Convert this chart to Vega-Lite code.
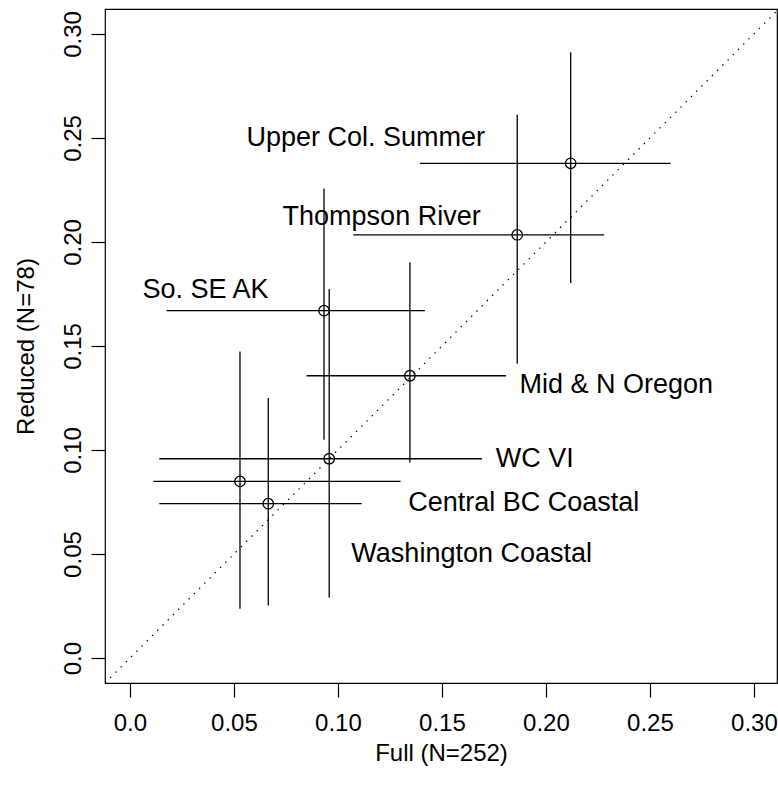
{
  "$schema": "https://vega.github.io/schema/vega-lite/v6.json",
  "width": 672,
  "height": 674,
  "autosize": {"type": "none"},
  "padding": {"left": 105, "top": 9, "right": 1, "bottom": 104},
  "background": "white",
  "config": {
    "font": "Liberation Sans",
    "view": {"stroke": "black", "strokeWidth": 1.2},
    "axis": {
      "domain": false,
      "grid": false,
      "ticks": true,
      "tickSize": 14,
      "tickColor": "black",
      "tickWidth": 1.2,
      "labelFont": "Liberation Sans",
      "labelFontSize": 24,
      "labelColor": "black",
      "titleFont": "Liberation Sans",
      "titleFontSize": 24,
      "titleFontWeight": "normal",
      "titleColor": "black",
      "labelOverlap": false,
      "labelFlush": false
    }
  },
  "datasets": {
    "pts": [
      {"name": "Upper Col. Summer", "full": 0.2119, "reduced": 0.2378, "full_lo": 0.1394, "full_hi": 0.2600, "red_lo": 0.1803, "red_hi": 0.2912, "lx": 0.1134, "ly": 0.2501},
      {"name": "Thompson River", "full": 0.1862, "reduced": 0.2034, "full_lo": 0.1074, "full_hi": 0.2280, "red_lo": 0.1415, "red_hi": 0.2612, "lx": 0.1210, "ly": 0.2122},
      {"name": "So. SE AK", "full": 0.0933, "reduced": 0.1670, "full_lo": 0.0176, "full_hi": 0.1418, "red_lo": 0.1049, "red_hi": 0.2257, "lx": 0.0363, "ly": 0.1768},
      {"name": "Mid & N Oregon", "full": 0.1346, "reduced": 0.1357, "full_lo": 0.0849, "full_hi": 0.1808, "red_lo": 0.0940, "red_hi": 0.1902, "lx": 0.2338, "ly": 0.1314},
      {"name": "WC VI", "full": 0.0958, "reduced": 0.0958, "full_lo": 0.0141, "full_hi": 0.1692, "red_lo": 0.0291, "red_hi": 0.1774, "lx": 0.1946, "ly": 0.0955},
      {"name": "Central BC Coastal", "full": 0.0529, "reduced": 0.0849, "full_lo": 0.0112, "full_hi": 0.1301, "red_lo": 0.0237, "red_hi": 0.1474, "lx": 0.1893, "ly": 0.0745},
      {"name": "Washington Coastal", "full": 0.0665, "reduced": 0.0742, "full_lo": 0.0141, "full_hi": 0.1114, "red_lo": 0.0253, "red_hi": 0.1250, "lx": 0.1643, "ly": 0.0502}
    ],
    "diag": [
      {"a": -0.012, "b": -0.012},
      {"a": 0.312, "b": 0.312}
    ]
  },
  "layer": [
    {
      "data": {"name": "diag"},
      "mark": {"type": "line", "color": "black", "strokeWidth": 1.3, "strokeDash": [1.3, 6.1], "clip": true},
      "encoding": {
        "x": {
          "field": "a", "type": "quantitative",
          "scale": {"domain": [-0.012, 0.3111], "nice": false, "zero": false},
          "axis": {
            "title": "Full (N=252)",
            "values": [0, 0.05, 0.1, 0.15, 0.2, 0.25, 0.3],
            "labelExpr": "datum.value == 0 ? '0.0' : format(datum.value, '.2f')",
            "labelBaseline": "alphabetic",
            "labelAlign": "center",
            "labelPadding": 33,
            "titleX": 336,
            "titleY": 77,
            "titleBaseline": "alphabetic",
            "titleAlign": "center"
          }
        },
        "y": {
          "field": "b", "type": "quantitative",
          "scale": {"domain": [-0.012, 0.312], "nice": false, "zero": false},
          "axis": {
            "title": "Reduced (N=78)",
            "values": [0, 0.05, 0.1, 0.15, 0.2, 0.25, 0.3],
            "labelExpr": "datum.value == 0 ? '0.0' : format(datum.value, '.2f')",
            "labelAngle": -90,
            "labelAlign": "center",
            "labelBaseline": "alphabetic",
            "labelPadding": 11,
            "titleX": -72,
            "titleY": 337,
            "titleAngle": -90,
            "titleBaseline": "alphabetic",
            "titleAlign": "center"
          }
        }
      }
    },
    {
      "data": {"name": "pts"},
      "mark": {"type": "rule", "color": "black", "strokeWidth": 1.3},
      "encoding": {
        "x": {"field": "full_lo", "type": "quantitative", "title": "Full (N=252)", "scale": {"domain": [-0.012, 0.3111], "nice": false, "zero": false}},
        "x2": {"field": "full_hi"},
        "y": {"field": "reduced", "type": "quantitative", "title": "Reduced (N=78)", "scale": {"domain": [-0.012, 0.312], "nice": false, "zero": false}}
      }
    },
    {
      "data": {"name": "pts"},
      "mark": {"type": "rule", "color": "black", "strokeWidth": 1.3},
      "encoding": {
        "x": {"field": "full", "type": "quantitative", "title": "Full (N=252)", "scale": {"domain": [-0.012, 0.3111], "nice": false, "zero": false}},
        "y": {"field": "red_lo", "type": "quantitative", "title": "Reduced (N=78)", "scale": {"domain": [-0.012, 0.312], "nice": false, "zero": false}},
        "y2": {"field": "red_hi"}
      }
    },
    {
      "data": {"name": "pts"},
      "mark": {"type": "point", "shape": "circle", "filled": false, "stroke": "black", "strokeWidth": 1.3, "size": 110, "opacity": 1},
      "encoding": {
        "x": {"field": "full", "type": "quantitative", "title": "Full (N=252)", "scale": {"domain": [-0.012, 0.3111], "nice": false, "zero": false}},
        "y": {"field": "reduced", "type": "quantitative", "title": "Reduced (N=78)", "scale": {"domain": [-0.012, 0.312], "nice": false, "zero": false}}
      }
    },
    {
      "data": {"name": "pts"},
      "mark": {"type": "text", "font": "Liberation Sans", "fontSize": 27, "align": "center", "baseline": "middle", "color": "black"},
      "encoding": {
        "x": {"field": "lx", "type": "quantitative", "title": "Full (N=252)", "scale": {"domain": [-0.012, 0.3111], "nice": false, "zero": false}},
        "y": {"field": "ly", "type": "quantitative", "title": "Reduced (N=78)", "scale": {"domain": [-0.012, 0.312], "nice": false, "zero": false}},
        "text": {"field": "name", "type": "nominal"}
      }
    }
  ]
}
